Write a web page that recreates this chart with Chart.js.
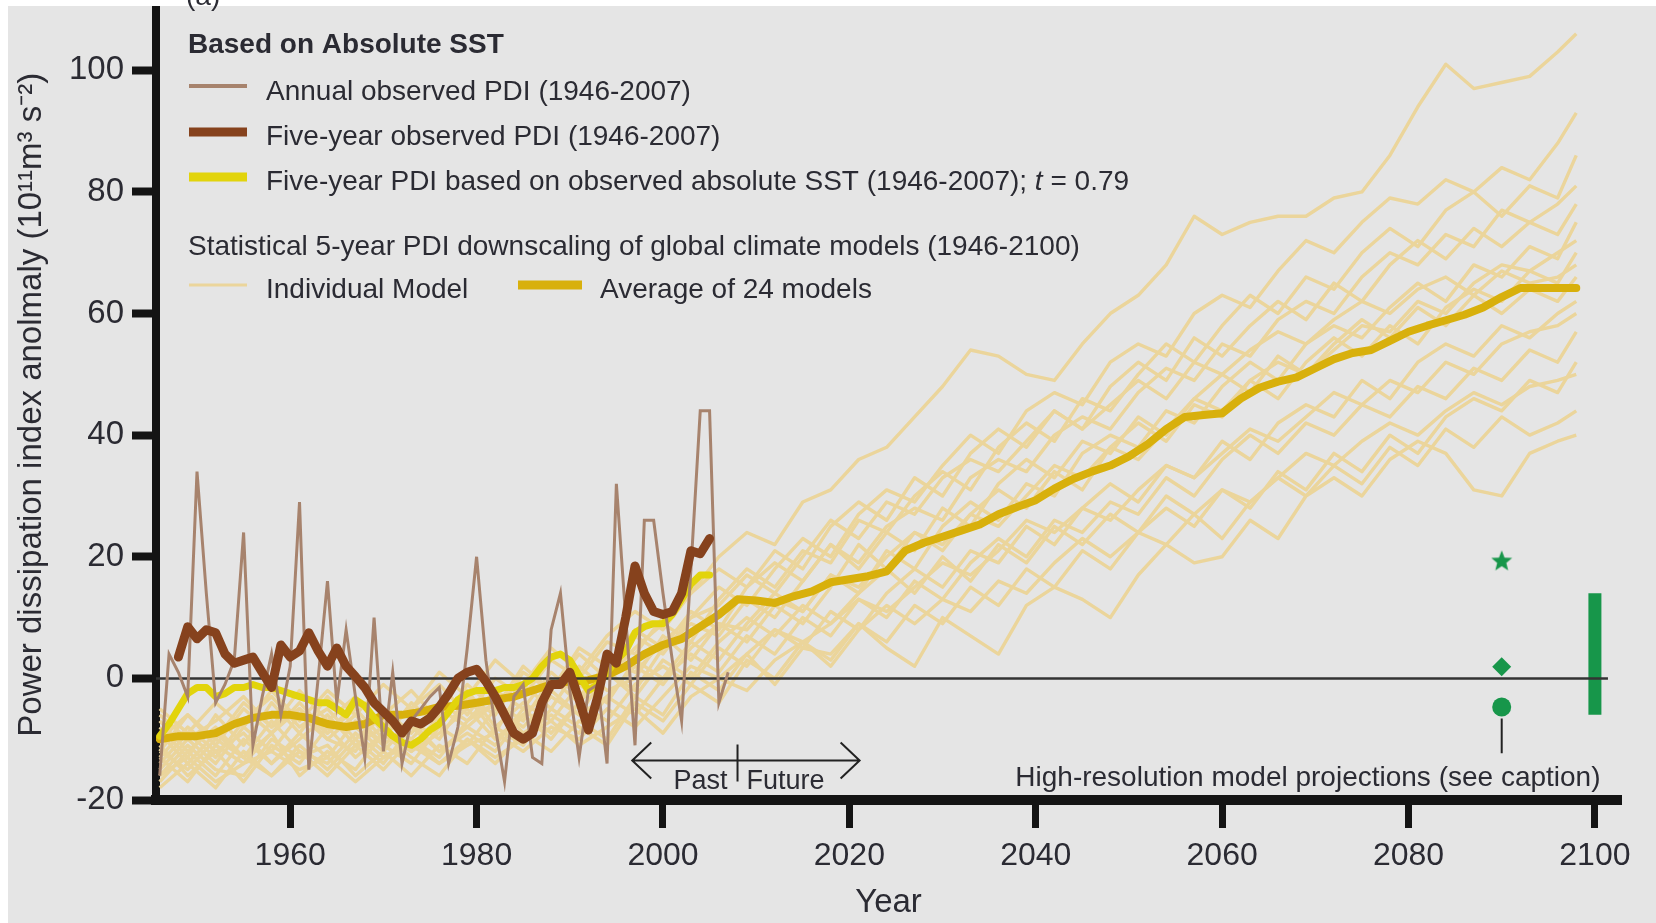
<!DOCTYPE html>
<html>
<head>
<meta charset="utf-8">
<title>Power dissipation index anomaly</title>
<script src="https://cdn.jsdelivr.net/npm/chart.js@4.4.1/dist/chart.umd.min.js"></script>
<style>
    html, body { margin: 0; padding: 0; background: #ffffff; overflow: hidden; }
    #contenedor { position: relative; width: 1656px; height: 923px; }
</style>
</head>
<body>
<div id="contenedor"><canvas id="pdiChart"></canvas></div>
<script>
// ---------- observed record (one value per year) ----------
var annualYears = [1946, 1947, 1948, 1949, 1950, 1951, 1952, 1953, 1954, 1955,
    1956, 1957, 1958, 1959, 1960, 1961, 1962, 1963, 1964, 1965,
    1966, 1967, 1968, 1969, 1970, 1971, 1972, 1973, 1974, 1975,
    1976, 1977, 1978, 1979, 1980, 1981, 1982, 1983, 1984, 1985,
    1986, 1987, 1988, 1989, 1990, 1991, 1992, 1993, 1994, 1995,
    1996, 1997, 1998, 1999, 2000, 2001, 2002, 2003, 2004, 2005,
    2006, 2007];
var annualPDI = [-16, 4, 1, -3, 34, 14, -4, -1, 3, 24,
    -11, -3, 4, -6, 2, 29, -15, 0, 16, -4,
    8, -3, -13, 10, -12, 1, -14, -7, -5, -3,
    -1.5, -14, -8, 5, 20, 3, -8, -17, -3, -1,
    -13, -14, 8, 14, -2, -13, -2, -1, -14, 32,
    10, -11, 26, 26, 14, 3, -7, 18, 44, 44,
    -4, 1];

var fiveYearYears = annualYears.slice(2, 60);   // 1948-2005
var fiveYearPDI = [3.5, 8.5, 6.5, 8, 7.5, 4, 2.5, 3,
    3.5, 1, -1.5, 5.5, 3.5, 4.5, 7.5, 4.5, 2, 5,
    2, 0.3, -1.5, -4, -5.5, -7, -9, -7, -7.5, -6.5,
    -4.7, -2.5, 0, 1, 1.5, -0.5, -3, -6, -9, -10,
    -9, -4, -1, -1, 1, -3.5, -8.5, -3, 4, 2.5,
    10, 18.5, 14, 11, 10.5, 11, 14, 21, 20.5, 23];

var sstYears = annualYears.slice(0, 60);        // 1946-2005
var sstPDI = [-9.5, -7.5, -5, -2.5, -1.5, -1.5, -3, -2.5, -1.5, -1.5,
    -1, -1.5, -1.5, -2, -2.5, -3, -3.5, -4, -4, -5,
    -6, -3.5, -4.5, -6.5, -8, -9.5, -10.5, -11, -10, -8.5,
    -7.5, -5.5, -3.5, -2.5, -2, -2, -2, -1.5, -1.5, -1,
    0, 2, 3.5, 4, 3, 0.5, -2, -1, 1, 3,
    4.5, 7.5, 8.5, 9, 9, 10.5, 13, 15.5, 17, 17];

// ---------- statistical downscaling of the climate models ----------
var avgYears = [1946, 1948, 1950, 1952, 1954, 1956, 1958, 1960, 1962, 1964,
    1966, 1968, 1970, 1972, 1974, 1976, 1978, 1980, 1982, 1984,
    1986, 1988, 1990, 1992, 1994, 1996, 1998, 2000, 2002, 2004,
    2006, 2008, 2010, 2012, 2014, 2016, 2018, 2020, 2022, 2024,
    2026, 2028, 2030, 2032, 2034, 2036, 2038, 2040, 2042, 2044,
    2046, 2048, 2050, 2052, 2054, 2056, 2058, 2060, 2062, 2064,
    2066, 2068, 2070, 2072, 2074, 2076, 2078, 2080, 2082, 2084,
    2086, 2088, 2090, 2092, 2094, 2096, 2098];
var avgPDI = [-10, -9.5, -9.5, -9, -7.5, -6.5, -6, -6, -6.5, -7.5,
    -8, -7.5, -6, -6, -5.5, -4.7, -4.5, -4, -3.5, -3,
    -2, -1, -0.5, -0.3, 0.5, 2, 4, 5.5, 6.5, 8.5,
    10.5, 13, 12.8, 12.4, 13.5, 14.3, 15.8, 16.3, 16.8, 17.6,
    21, 22.3, 23.3, 24.3, 25.3, 27, 28.2, 29.3, 31.2, 32.8,
    34, 35, 36.5, 38.5, 41, 43, 43.3, 43.6, 46, 47.8,
    48.8, 49.5, 51, 52.5, 53.5, 54, 55.5, 57, 58, 58.9,
    59.8, 61, 62.7, 64.2, 64.2, 64.2, 64.2];

var modelYears = [1946, 1949, 1952, 1955, 1958, 1961, 1964, 1967, 1970, 1973,
    1976, 1979, 1982, 1985, 1988, 1991, 1994, 1997, 2000, 2003,
    2006, 2009, 2012, 2015, 2018, 2021, 2024, 2027, 2030, 2033,
    2036, 2039, 2042, 2045, 2048, 2051, 2054, 2057, 2060, 2063,
    2066, 2069, 2072, 2075, 2078, 2081, 2084, 2087, 2090, 2093,
    2096, 2098];
var modelA = [-12, -6, -10, -4, -8, -2, -7, -3, -9, -5,
    -1, -6, 0, -3, 3, 0, 6, 4, 10, 14,
    20, 24, 22, 29, 31, 36, 38, 43, 48, 54,
    53, 50, 49, 55, 60, 63, 68, 76, 73, 75,
    76, 76, 79, 80, 86, 94, 101, 97, 98, 99,
    103, 106];
var modelB = [-15, -10, -14, -8, -12, -6, -10, -12, -5, -9,
    -4, -7, -2, -5, 1, -3, 2, 7, 4, 10,
    15, 12, 18, 23, 20, 27, 31, 29, 35, 40,
    37, 44, 47, 45, 52, 55, 53, 60, 63, 61,
    67, 72, 70, 75, 79, 78, 82, 80, 84, 82,
    88, 93];
var modelC = [-8, -13, -6, -11, -4, -9, -3, -8, -12, -7,
    -10, -3, -6, 1, -2, 4, 0, 5, 9, 6,
    13, 18, 15, 21, 19, 26, 24, 30, 34, 31,
    38, 42, 39, 46, 44, 50, 55, 52, 58, 63,
    60, 66, 64, 70, 74, 71, 77, 80, 76, 81,
    79, 86];
var modelD = [-17, -12, -16, -10, -14, -9, -13, -7, -11, -14,
    -8, -11, -5, -8, -3, -6, 1, -2, 5, 9,
    7, 13, 10, 16, 22, 19, 25, 28, 26, 33,
    36, 34, 40, 43, 41, 47, 51, 49, 55, 53,
    59, 62, 60, 66, 70, 68, 73, 71, 77, 75,
    78, 81];
var modelE = [-11, -16, -12, -17, -11, -14, -8, -13, -9, -12,
    -6, -2, -8, -4, -7, -1, -4, 3, 0, 6,
    3, 9, 14, 11, 17, 14, 21, 18, 25, 29,
    26, 32, 30, 37, 40, 38, 44, 42, 48, 52,
    49, 55, 58, 56, 61, 65, 62, 68, 66, 71,
    69, 75];
var modelF = [-14, -9, -13, -7, -3, -8, -5, -10, -6, -2,
    -7, -3, -9, -1, -5, 2, -2, 0, 7, 3,
    9, 6, 12, 9, 15, 22, 18, 24, 21, 27,
    31, 28, 34, 31, 38, 42, 39, 45, 43, 49,
    46, 52, 56, 53, 58, 55, 61, 64, 62, 67,
    65, 70];
var modelG = [-18, -14, -18, -12, -16, -11, -15, -10, -14, -8,
    -12, -9, -12, -6, -10, -4, -7, -1, 2, -1,
    5, 2, 8, 5, 11, 8, 14, 18, 15, 21,
    19, 25, 22, 28, 32, 29, 35, 33, 39, 36,
    42, 45, 43, 49, 46, 52, 55, 53, 58, 56,
    60, 62];
var modelH = [-9, -14, -9, -13, -7, -12, -16, -11, -15, -10,
    -13, -7, -4, -9, -6, -9, -3, -6, 0, 4,
    1, 7, 4, 10, 7, 13, 10, 16, 13, 19,
    23, 20, 26, 24, 29, 27, 33, 30, 36, 40,
    37, 42, 40, 45, 43, 48, 46, 51, 49, 54,
    52, 57];
var modelI = [-16, -11, -15, -16, -10, -13, -11, -16, -12, -16,
    -11, -14, -8, -11, -5, -8, -11, -4, -7, -1,
    -4, 3, 0, 6, 3, 9, 6, 12, 9, 15,
    12, 18, 15, 21, 18, 24, 28, 25, 31, 28,
    34, 31, 37, 34, 40, 37, 43, 46, 44, 49,
    47, 52];
var modelJ = [-13, -17, -11, -14, -9, -16, -12, -15, -9, -13,
    -16, -10, -14, -9, -12, -7, -10, -3, -6, 1,
    -2, 4, -1, 5, 4, 9, 5, 2, 10, 7,
    4, 12, 15, 13, 10, 17, 22, 19, 20, 26,
    23, 30, 33, 30, 36, 39, 37, 31, 30, 37,
    39, 40];
var modelK = [-7, -12, -8, -13, -9, -5, -10, -6, -11, -7,
    -12, -8, -11, -5, -9, -4, 1, -3, 3, 0,
    6, 10, 7, 12, 9, 14, 18, 14, 20, 16,
    22, 19, 25, 22, 27, 24, 30, 27, 23, 29,
    33, 30, 35, 32, 38, 35, 41, 38, 43, 40,
    42, 44];
var modelL = [-10, -6, -11, -5, -9, -4, -9, -5, -10, -4,
    -8, -1, -5, 2, -2, 5, 2, 8, 5, 11,
    8, 15, 19, 16, 22, 18, 24, 21, 28, 25,
    32, 36, 33, 39, 37, 43, 40, 46, 50, 47,
    53, 50, 55, 59, 56, 61, 58, 63, 60, 64,
    62, 66];
var modelM = [-5, -9, -4, -8, -2, -7, -2, -6, -1, -5,
    1, -3, 3, -1, 5, 1, 7, 11, 8, 14,
    18, 15, 21, 18, 25, 29, 26, 33, 30, 37,
    41, 38, 44, 41, 48, 52, 49, 56, 53, 58,
    62, 59, 65, 62, 68, 72, 69, 74, 71, 75,
    73, 78];
var modelN = [-13, -8, -12, -9, -14, -10, -6, -11, -8, -12,
    -9, -5, -10, -6, -2, -6, -3, 2, -1, 5,
    9, 8, 13, 11, 17, 15, 20, 24, 22, 27,
    25, 30, 35, 33, 38, 36, 41, 46, 44, 49,
    52, 50, 54, 58, 57, 62, 60, 65, 68, 67,
    70, 72];
var modelO = [-16, -13, -17, -14, -12, -15, -13, -17, -13, -10,
    -14, -11, -9, -12, -8, -10, -5, -8, -3, 2,
    0, 4, 8, 6, 9, 13, 11, 15, 19, 17,
    21, 26, 24, 28, 26, 31, 35, 33, 37, 41,
    39, 43, 47, 45, 49, 47, 52, 50, 55, 57,
    58, 60];
var modelP = [-6, -10, -7, -3, -8, -5, -9, -4, -7, -10,
    -5, -8, -4, -7, 0, -4, 3, 1, 6, 10,
    12, 17, 14, 20, 26, 23, 29, 27, 33, 36,
    34, 39, 44, 41, 45, 49, 46, 52, 50, 54,
    57, 55, 59, 62, 60, 64, 66, 63, 67, 65,
    66, 68];
var modelQ = [-12, -15, -10, -13, -16, -12, -14, -9, -13, -11,
    -14, -10, -13, -10, -7, -11, -8, -5, -9, -3,
    0, -2, 3, 6, 2, 8, 12, 9, 13, 11,
    16, 14, 19, 23, 20, 24, 22, 27, 31, 29,
    33, 37, 35, 39, 42, 40, 44, 47, 45, 48,
    49, 50];
var modelRuns = [modelA, modelB, modelC, modelD, modelE, modelF, modelG,
    modelH, modelI, modelJ, modelK, modelL, modelM, modelN, modelO,
    modelP, modelQ];

// ---------- high-resolution projections ----------
var hiResYears = [2090, 2090, 2090];
var hiResPDI = [19.4, 1.9, -4.7];
var pointerYears = [2090, 2090];
var pointerPDI = [-6.6, -12.3];
var rangeYears = [2100, 2100];
var rangePDI = [-6, 14];
var zeroYears = [1945.6, 2101.4];
var zeroPDI = [0, 0];

var xTickYears = [1960, 1980, 2000, 2020, 2040, 2060, 2080, 2100];
var yTickValues = [-20, 0, 20, 40, 60, 80, 100];

// Past / Future arrow (data units)
var arrowLevel = -13.5;
var arrowFrom = 1996.7;
var arrowTo = 2021.1;
var presentYear = 2008;

var fontFamily = '"Liberation Sans", Arial, sans-serif';
var textColor = '#2b2b33';
var verdeHR = '#17964a';
var colorModelo = '#ebd59b';

function toPoints(xs, ys) {
    var pts = [];
    for (var i = 0; i < ys.length; i++) {
        pts.push({ x: xs[i], y: ys[i] });
    }
    return pts;
}

// filled five point star for the point style
function crearEstrella(size, color) {
    var c = document.createElement('canvas');
    c.width = size; c.height = size;
    var g = c.getContext('2d');
    var cx = size / 2, cy = size / 2 + 1, rOut = size / 2, rIn = size / 4.6;
    g.beginPath();
    for (var i = 0; i < 10; i++) {
        var r = (i % 2 === 0) ? rOut : rIn;
        var a = -Math.PI / 2 + i * Math.PI / 5;
        g.lineTo(cx + r * Math.cos(a), cy + r * Math.sin(a));
    }
    g.closePath();
    g.fillStyle = color;
    g.fill();
    return c;
}

var datasets = [];

datasets.push({
    label: 'Five-year observed PDI (1946-2007)',
    data: toPoints(fiveYearYears, fiveYearPDI),
    borderColor: '#86421d', borderWidth: 9, borderJoinStyle: 'round', borderCapStyle: 'round',
    order: 2
});
datasets.push({
    label: 'Annual observed PDI (1946-2007)',
    data: toPoints(annualYears, annualPDI),
    borderColor: '#a7836d', borderWidth: 3,
    order: 3
});
datasets.push({
    label: 'zero',
    data: toPoints(zeroYears, zeroPDI),
    borderColor: '#333333', borderWidth: 2.5,
    order: 4
});
datasets.push({
    label: 'Five-year PDI based on observed absolute SST (1946-2007)',
    data: toPoints(sstYears, sstPDI),
    borderColor: '#e2d40c', borderWidth: 7, borderJoinStyle: 'round', borderCapStyle: 'round',
    order: 5
});
datasets.push({
    label: 'Average of 24 models',
    data: toPoints(avgYears, avgPDI),
    borderColor: '#d8b00c', borderWidth: 8, borderJoinStyle: 'round', borderCapStyle: 'round',
    order: 6
});
datasets.push({
    label: 'High-resolution model projections',
    data: toPoints(hiResYears, hiResPDI),
    showLine: false,
    pointStyle: [crearEstrella(22, verdeHR), 'rectRot', 'circle'],
    pointRadius: 9.5,
    pointBackgroundColor: verdeHR, pointBorderColor: verdeHR, pointBorderWidth: 0,
    order: 0
});
datasets.push({
    label: 'pointer',
    data: toPoints(pointerYears, pointerPDI),
    borderColor: '#222222', borderWidth: 2,
    order: 1
});
datasets.push({
    label: 'range 2100',
    data: toPoints(rangeYears, rangePDI),
    borderColor: verdeHR, borderWidth: 13, borderCapStyle: 'butt',
    order: 7
});
modelRuns.forEach(function (run, i) {
    datasets.push({
        label: 'Individual model ' + (i + 1),
        data: toPoints(modelYears, run),
        borderColor: colorModelo, borderWidth: 3.4, borderJoinStyle: 'round',
        order: 10 + i
    });
});

var extrasPlugin = {
    id: 'extrasPDI',
    beforeDraw: function (chart) {
        var ctx = chart.ctx;
        ctx.save();
        ctx.fillStyle = '#ffffff';
        ctx.fillRect(0, 0, chart.width, chart.height);
        ctx.fillStyle = '#e5e5e5';
        ctx.fillRect(8, 6, chart.width - 8, chart.height - 6);
        ctx.restore();
    },
    afterDatasetsDraw: function (chart) {
        var ctx = chart.ctx, xs = chart.scales.x, ys = chart.scales.y;
        var yA = ys.getPixelForValue(arrowLevel);
        var xL = xs.getPixelForValue(arrowFrom);
        var xR = xs.getPixelForValue(arrowTo);
        var xM = xs.getPixelForValue(presentYear);
        ctx.save();
        ctx.strokeStyle = '#222222';
        ctx.lineWidth = 2;
        ctx.beginPath();
        ctx.moveTo(xL, yA); ctx.lineTo(xR, yA);
        ctx.moveTo(xL + 19, yA - 18); ctx.lineTo(xL, yA); ctx.lineTo(xL + 19, yA + 18);
        ctx.moveTo(xR - 19, yA - 18); ctx.lineTo(xR, yA); ctx.lineTo(xR - 19, yA + 18);
        ctx.moveTo(xM, yA - 16); ctx.lineTo(xM, yA + 21);
        ctx.stroke();

        ctx.fillStyle = textColor;
        ctx.textBaseline = 'middle';
        ctx.font = '27px ' + fontFamily;
        ctx.textAlign = 'right';
        ctx.fillText('Past', xM - 10, yA + 21);
        ctx.textAlign = 'left';
        ctx.fillText('Future', xM + 9, yA + 21);

        ctx.font = '28px ' + fontFamily;
        ctx.textAlign = 'right';
        ctx.fillText('High-resolution model projections (see caption)', xs.getPixelForValue(2100.6), ys.getPixelForValue(-16.4));
        ctx.restore();
    },
    afterDraw: function (chart) {
        var ctx = chart.ctx;
        ctx.save();
        ctx.fillStyle = textColor;
        ctx.textBaseline = 'middle';
        ctx.textAlign = 'left';

        ctx.font = '28px ' + fontFamily;
        ctx.fillText('(a)', 186, -3);

        // legend
        ctx.font = 'bold 28px ' + fontFamily;
        ctx.fillText('Based on Absolute SST', 188, 45);

        function muestra(x1, x2, y, color, w) {
            ctx.beginPath();
            ctx.strokeStyle = color;
            ctx.lineWidth = w;
            ctx.lineCap = 'butt';
            ctx.moveTo(x1, y);
            ctx.lineTo(x2, y);
            ctx.stroke();
        }
        var normal = '28px ' + fontFamily;
        ctx.font = normal;
        muestra(189, 247, 86, '#a7836d', 4);
        ctx.fillText('Annual observed PDI (1946-2007)', 266, 92);
        muestra(189, 247, 132, '#86421d', 9);
        ctx.fillText('Five-year observed PDI (1946-2007)', 266, 137);
        muestra(189, 247, 177, '#e2d40c', 9);
        var parte1 = 'Five-year PDI based on observed absolute SST (1946-2007); ';
        ctx.fillText(parte1, 266, 182);
        var w1 = ctx.measureText(parte1).width;
        ctx.font = 'italic 28px ' + fontFamily;
        ctx.fillText('t', 266 + w1, 182);
        var w2 = ctx.measureText('t').width;
        ctx.font = normal;
        ctx.fillText(' = 0.79', 266 + w1 + w2, 182);

        ctx.fillText('Statistical 5-year PDI downscaling of global climate models (1946-2100)', 188, 247);
        muestra(189, 247, 285, colorModelo, 3);
        ctx.fillText('Individual Model', 266, 290);
        muestra(518, 582, 285, '#d8b00c', 9);
        ctx.fillText('Average of 24 models', 600, 290);
        ctx.restore();
    }
};

var pdiChart = new Chart(document.getElementById('pdiChart').getContext('2d'), {
    type: 'line',
    data: { datasets: datasets },
    options: {
        responsive: true,
        maintainAspectRatio: false,
        animation: false,
        events: [],
        layout: { padding: { top: 9, right: 35, left: 0, bottom: 0 } },
        elements: {
            point: { radius: 0 },
            line: { tension: 0 }
        },
        plugins: {
            legend: { display: false },
            tooltip: { enabled: false }
        },
        scales: {
            x: {
                type: 'linear',
                min: 1945.6,
                max: 2102.8,
                afterBuildTicks: function (scale) {
                    scale.ticks = xTickYears.map(function (v) { return { value: v }; });
                },
                afterFit: function (scale) {
                    scale.height = 123;
                    scale.paddingLeft = 0;
                    scale.paddingRight = 0;
                },
                ticks: {
                    color: textColor,
                    font: { family: fontFamily, size: 32 },
                    padding: 9,
                    maxRotation: 0,
                    autoSkip: false,
                    callback: function (v) { return String(v); }
                },
                grid: {
                    display: true,
                    drawOnChartArea: false,
                    drawTicks: true,
                    tickLength: 28,
                    tickWidth: 7,
                    tickColor: '#141414',
                    color: '#141414'
                },
                border: { display: true, color: '#141414', width: 10 },
                title: {
                    display: true,
                    text: 'Year',
                    color: textColor,
                    font: { family: fontFamily, size: 33 },
                    padding: { top: 0, bottom: 0 }
                }
            },
            y: {
                min: -20,
                max: 110,
                afterBuildTicks: function (scale) {
                    scale.ticks = yTickValues.map(function (v) { return { value: v }; });
                },
                afterFit: function (scale) {
                    scale.width = 156;
                    scale.paddingTop = 0;
                    scale.paddingBottom = 0;
                },
                ticks: {
                    color: textColor,
                    font: { family: fontFamily, size: 33 },
                    padding: 8,
                    callback: function (v) { return String(v); }
                },
                grid: {
                    display: true,
                    drawOnChartArea: false,
                    drawTicks: true,
                    tickLength: 24,
                    tickWidth: 8,
                    tickColor: '#141414',
                    color: '#141414'
                },
                border: { display: true, color: '#141414', width: 8 },
                title: {
                    display: true,
                    text: 'Power dissipation index anolmaly (10\u00B9\u00B9m\u00B3 s\u207B\u00B2)',
                    color: textColor,
                    font: { family: fontFamily, size: 33 },
                    padding: { top: 12, bottom: 0 }
                }
            }
        }
    },
    plugins: [extrasPlugin]
});
</script>
</body>
</html>
